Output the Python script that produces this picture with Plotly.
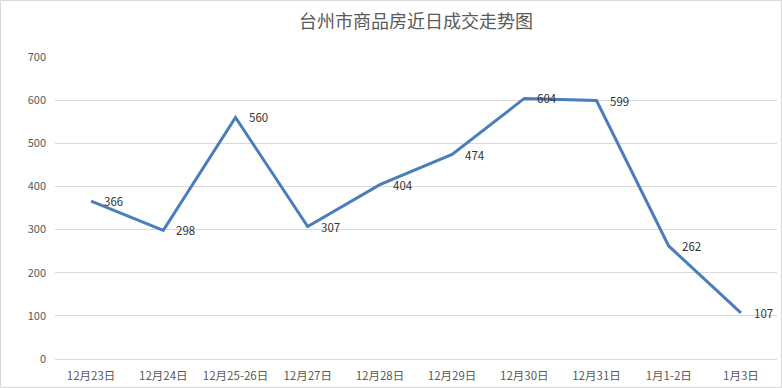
import plotly.graph_objects as go

categories = ["12月23日", "12月24日", "12月25-26日", "12月27日", "12月28日",
              "12月29日", "12月30日", "12月31日", "1月1-2日", "1月3日"]
values = [366, 298, 560, 307, 404, 474, 604, 599, 262, 107]
y_ticks = [0, 100, 200, 300, 400, 500, 600, 700]

W, H = 782, 388
L, R, T, B = 55, 5, 57, 29
pw, ph = W - L - R, H - T - B

def px_x(p):
    return (p - L) / pw

def px_y(p):
    return (H - B - p) / ph

fig = go.Figure()
fig.add_trace(go.Scatter(
    x=categories, y=values, mode="lines",
    line=dict(color="#4a7ebb", width=3),
    cliponaxis=False, hoverinfo="skip", showlegend=False,
))

for c, v in zip(categories, values):
    fig.add_annotation(x=c, y=v, text=str(v), showarrow=False,
                       xanchor="left", yanchor="middle", xshift=11,
                       font=dict(family="Noto Sans CJK SC, sans-serif", size=11.5,
                                 color="#333333"))

fig.add_shape(type="rect", xref="paper", yref="paper",
              x0=px_x(0.5), x1=px_x(781.5), y0=px_y(387.5), y1=px_y(0.5),
              line=dict(color="#d9d9d9", width=1), layer="below")

fig.update_layout(
    width=W, height=H,
    margin=dict(l=L, r=R, t=T, b=B),
    paper_bgcolor="white", plot_bgcolor="white",
    title=dict(text="台州市商品房近日成交走势图", x=0.5, xref="paper",
               y=1 - 22 / H, yanchor="middle",
               font=dict(family="Noto Sans CJK SC, sans-serif", size=18, color="#595959")),
    font=dict(family="Noto Sans CJK SC, sans-serif", size=11, color="#595959"),
    xaxis=dict(type="category", range=[-0.5, len(categories) - 0.5],
               showgrid=False, showline=True, linecolor="#d9d9d9",
               linewidth=1, ticks="", ticklabelstandoff=6,
               tickfont=dict(size=11.5, color="#595959"), fixedrange=True),
    yaxis=dict(range=[0, 700], tickvals=y_ticks, showgrid=True, gridcolor="#d9d9d9",
               gridwidth=1, zeroline=False, showline=False, ticks="",
               ticklabelstandoff=8, tickfont=dict(size=11, color="#595959"),
               fixedrange=True),
)

fig.write_html("out.html", config={"displayModeBar": False},
               post_script="document.body.style.margin='0';document.body.style.overflow='hidden';")
